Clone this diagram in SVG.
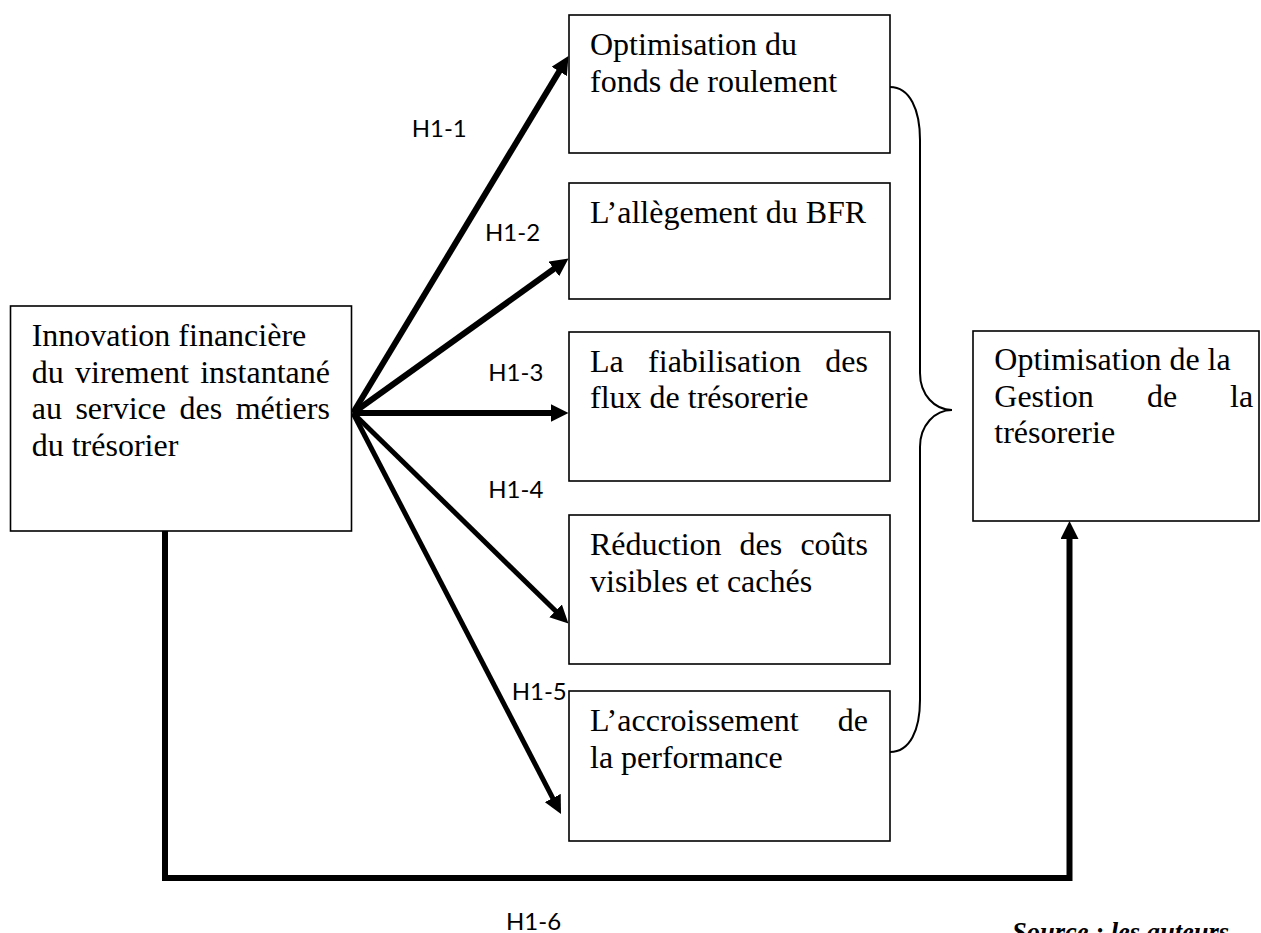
<svg xmlns="http://www.w3.org/2000/svg" width="1261" height="933" viewBox="0 0 1261 933">
<style>
.box{fill:#fff;stroke:#000;stroke-width:1.6}
.t{font-family:"Liberation Serif","Times New Roman",serif;font-size:32px;fill:#000}
.lbl{font-family:Lato,"Liberation Sans",sans-serif;font-size:24px;fill:#000}
.a{fill:none;stroke:#000;stroke-width:6}
.a2{fill:none;stroke:#000;stroke-width:5}
.src{font-family:"Liberation Serif","Times New Roman",serif;font-size:26.5px;font-weight:bold;font-style:italic;fill:#000}
</style>
<defs>
<marker id="ah" markerUnits="userSpaceOnUse" markerWidth="18" markerHeight="18" viewBox="0 0 18 18" refX="8" refY="9" orient="auto">
<path d="M0,0 L18,9 L0,18 z" fill="#000"/>
</marker>
</defs>
<rect width="1261" height="933" fill="#fff"/>

<g id="connectors">
<line class="a" x1="353" y1="413" x2="563.3" y2="64.6" marker-end="url(#ah)"/>
<line class="a" x1="353" y1="413" x2="560.4" y2="264.3" marker-end="url(#ah)"/>
<line class="a" x1="353" y1="413" x2="558.5" y2="413" marker-end="url(#ah)"/>
<line class="a2" x1="353" y1="413" x2="561.3" y2="616.5" marker-end="url(#ah)"/>
<line class="a2" x1="353" y1="413" x2="556.4" y2="805.1" marker-end="url(#ah)"/>
<polyline class="a" points="165,531 165,878 1069.5,878 1069.5,531" marker-end="url(#ah)"/>
<path d="M890 87 C910 87 920 110 920 140 L920 373 C920 395 935 410 952 410 C935 410 920 425 920 447 L920 700 C920 730 910 752 890 752" fill="none" stroke="#000" stroke-width="2"/>
<text class="lbl" x="411.7" y="136.7">H1-1</text>
<text class="lbl" x="485" y="240.7">H1-2</text>
<text class="lbl" x="488.3" y="381">H1-3</text>
<text class="lbl" x="488.3" y="497.7">H1-4</text>
<text class="lbl" x="511.7" y="700">H1-5</text>
<text class="lbl" x="506" y="929.5">H1-6</text>
</g>

<g id="n-innovation">
<rect class="box" x="10.5" y="306" width="341" height="225"/>
<text class="t" y="346"><tspan x="31.7">Innovation financière</tspan></text>
<text class="t" y="382.7"><tspan x="31.7">du</tspan><tspan x="75.05">virement</tspan><tspan x="200.2">instantané</tspan></text>
<text class="t" y="419.3"><tspan x="31.7">au</tspan><tspan x="75.4">service</tspan><tspan x="179.5">des</tspan><tspan x="235.7">métiers</tspan></text>
<text class="t" x="31.7" y="456">du trésorier</text>
</g>

<g id="n-fonds">
<rect class="box" x="569" y="15" width="321" height="138"/>
<text class="t" x="590" y="55">Optimisation du</text>
<text class="t" x="590" y="91.7">fonds de roulement</text>
</g>

<g id="n-bfr">
<rect class="box" x="569" y="183" width="321" height="116"/>
<text class="t" x="590" y="222.7">L’allègement du BFR</text>
</g>

<g id="n-flux">
<rect class="box" x="569" y="332" width="321" height="149"/>
<text class="t" y="371.7"><tspan x="590">La</tspan><tspan x="648.1">fiabilisation</tspan><tspan x="825.3">des</tspan></text>
<text class="t" x="590" y="408.3">flux de trésorerie</text>
</g>

<g id="n-couts">
<rect class="box" x="569" y="515" width="321" height="149"/>
<text class="t" y="555"><tspan x="590">Réduction</tspan><tspan x="739.6">des</tspan><tspan x="800.4">coûts</tspan></text>
<text class="t" x="590" y="591.7">visibles et cachés</text>
</g>

<g id="n-perf">
<rect class="box" x="569" y="691" width="321" height="150"/>
<text class="t" y="731"><tspan x="590">L’accroissement</tspan><tspan x="837.8">de</tspan></text>
<text class="t" x="590" y="767.7">la performance</text>
</g>

<g id="n-gestion">
<rect class="box" x="973" y="331" width="286" height="190"/>
<text class="t" x="994.3" y="370">Optimisation de la</text>
<text class="t" y="406.7"><tspan x="994.3">Gestion</tspan><tspan x="1146.9">de</tspan><tspan x="1230.1">la</tspan></text>
<text class="t" x="994.3" y="443.3">trésorerie</text>
</g>

<text class="src" x="1012" y="941">Source : les auteurs</text>
</svg>
